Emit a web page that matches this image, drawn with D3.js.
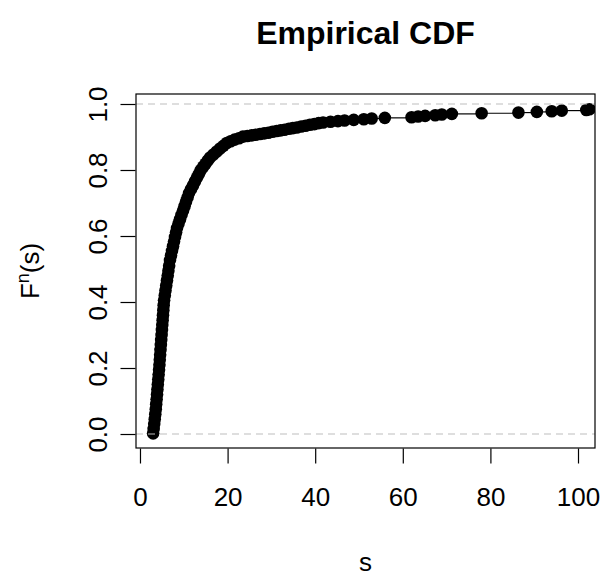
<!DOCTYPE html>
<html><head><meta charset="utf-8">
<script src="https://cdn.jsdelivr.net/npm/d3@7"></script>
<style>
html,body{margin:0;padding:0;background:#fff;}
svg text{font-family:"Liberation Sans",Arial,sans-serif;fill:#000;}
</style></head>
<body>
<svg id="chart" width="600" height="578"></svg>
<script>
// ECDF knots (s, F(s))
const sKnots = [
  3.00,3.12,3.25,3.37,3.49,3.61,3.70,3.80,3.89,3.98,4.07,4.17,4.26,4.35,4.44,4.52,4.60,4.68,4.76,4.84,
  4.93,5.01,5.09,5.17,5.25,5.33,5.41,5.50,
  5.66,5.82,5.99,6.16,6.33,6.49,6.66,6.85,
  7.08,7.31,7.54,7.77,8.00,8.24,8.45,
  8.79,9.14,9.48,9.83,10.17,10.51,10.86,11.20,
  11.65,12.10,12.55,13.00,13.45,13.90,
  14.43,14.95,15.48,16.00,
  16.76,17.52,18.28,19.04,19.80,
  20.7,21.6,22.6,23.5,
  24.5,25.5,26.4,27.4,
  28.35,29.3,30.25,31.2,
  32.1,33.0,34.0,34.9,35.8,
  36.8,37.8,38.8,39.8,40.8,41.8,
  43.5,45.2,
  46.7,48.8,51.1,52.9,55.9,62.0,63.5,65.1,67.4,68.9,71.2,78.0,86.4,90.6,94.0,96.3,101.9,102.6
];
const fKnots = [
  0.002,0.015,0.030,0.045,0.060,0.075,0.090,0.105,0.120,0.135,0.150,0.165,0.180,0.195,0.210,0.225,0.240,0.255,0.270,0.285,
  0.300,0.315,0.330,0.345,0.360,0.375,0.390,0.405,
  0.420,0.435,0.450,0.465,0.480,0.495,0.510,0.527,
  0.541,0.555,0.569,0.583,0.597,0.611,0.624,
  0.637,0.651,0.664,0.677,0.690,0.704,0.717,0.730,
  0.742,0.753,0.765,0.777,0.788,0.800,
  0.810,0.819,0.829,0.838,
  0.847,0.856,0.865,0.873,0.882,
  0.887,0.892,0.896,0.901,
  0.903,0.905,0.907,0.909,
  0.911,0.913,0.916,0.918,
  0.920,0.922,0.925,0.927,0.929,
  0.932,0.934,0.937,0.939,0.942,0.944,
  0.946,0.948,
  0.950,0.952,0.954,0.956,0.958,0.960,0.962,0.964,0.966,0.968,0.970,0.972,0.974,0.976,0.978,0.980,0.982,0.984
];
const xTicks = [0,20,40,60,80,100];
const yTicks = [0,0.2,0.4,0.6,0.8,1.0];
const yTickLabels = ["0.0","0.2","0.4","0.6","0.8","1.0"];
const refLines = [0,1];
const title = "Empirical CDF";
const xLabel = "s";

const box = {left:136, right:595, top:94, bottom:448};
const x = d3.scaleLinear().domain([-0.91,103.88]).range([box.left, box.right]);
const y = d3.scaleLinear().domain([-0.0424,1.0303]).range([box.bottom, box.top]);

const svg = d3.select("#chart");
svg.append("defs").append("clipPath").attr("id","clip")
  .append("rect").attr("x",box.left).attr("y",box.top)
  .attr("width",box.right-box.left).attr("height",box.bottom-box.top);

const plot = svg.append("g").attr("clip-path","url(#clip)");

// step segments
const segs = sKnots.map((s,i)=>({x0:s, x1: i<sKnots.length-1 ? sKnots[i+1] : x.domain()[1], f:fKnots[i]}));
plot.selectAll("line.step").data(segs).join("line").attr("class","step")
  .attr("x1",d=>x(d.x0)).attr("x2",d=>x(d.x1))
  .attr("y1",d=>y(d.f)).attr("y2",d=>y(d.f))
  .attr("stroke","#000").attr("stroke-width",1.2);

// points
plot.selectAll("circle.pt").data(sKnots).join("circle").attr("class","pt")
  .attr("cx",d=>x(d)).attr("cy",(d,i)=>y(fKnots[i])).attr("r",6.3).attr("fill","#000");

// reference dashed lines
plot.selectAll("line.ref").data(refLines).join("line").attr("class","ref")
  .attr("x1",box.left).attr("x2",box.right)
  .attr("y1",d=>y(d)).attr("y2",d=>y(d))
  .attr("stroke","#bdbdbd").attr("stroke-width",1.2).attr("stroke-dasharray","7,5");

// box
svg.append("rect").attr("x",box.left).attr("y",box.top)
  .attr("width",box.right-box.left).attr("height",box.bottom-box.top)
  .attr("fill","none").attr("stroke","#000").attr("stroke-width",1.2);

// x axis
const xAxis = d3.axisBottom(x).tickValues(xTicks).tickSize(15).tickPadding(24).tickFormat(d3.format("d"));
const gx = svg.append("g").attr("transform",`translate(0,${box.bottom+0.5})`).call(xAxis);
gx.select(".domain").remove();
gx.selectAll(".tick line").attr("stroke","#000").attr("stroke-width",1.2);
gx.selectAll(".tick text").attr("font-size",26).attr("font-family","Liberation Sans, Arial, sans-serif").attr("fill","#111");

// y axis
const yAxis = d3.axisLeft(y).tickValues(yTicks).tickSize(15).tickFormat((d,i)=>yTickLabels[i]);
const gy = svg.append("g").attr("transform",`translate(${box.left-0.5},0)`).call(yAxis);
gy.select(".domain").remove();
gy.selectAll(".tick line").attr("stroke","#000").attr("stroke-width",1.2);
gy.selectAll(".tick text")
  .attr("font-size",26).attr("font-family","Liberation Sans, Arial, sans-serif").attr("fill","#111")
  .attr("x",null).attr("dy",null)
  .attr("text-anchor","middle")
  .attr("transform","translate(-29,0) rotate(-90)");

// title
svg.append("text").attr("x",(box.left+box.right)/2).attr("y",44)
  .attr("text-anchor","middle").attr("font-weight","bold").attr("font-size",32)
  .text(title);

// x label
svg.append("text").attr("x",(box.left+box.right)/2).attr("y",571)
  .attr("text-anchor","middle").attr("font-size",26).attr("fill","#111").text(xLabel);

// y label F^n(s)
const yl = svg.append("text").attr("transform",`translate(39,${(box.top+box.bottom)/2}) rotate(-90)`)
  .attr("text-anchor","middle").attr("font-size",26).attr("fill","#111");
yl.append("tspan").text("F");
yl.append("tspan").attr("dy",-10).attr("font-size",18).text("n");
yl.append("tspan").attr("dy",10).text("(s)");
</script>
</body></html>
